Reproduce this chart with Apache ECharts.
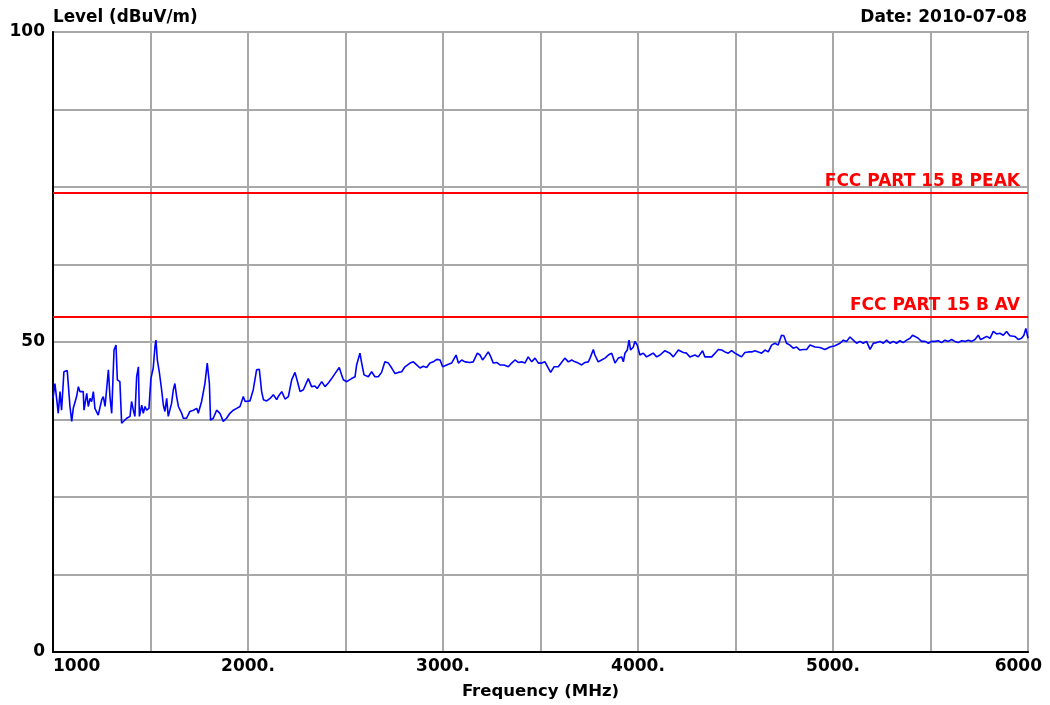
<!DOCTYPE html>
<html>
<head>
<meta charset="utf-8">
<script src="https://cdn.jsdelivr.net/npm/echarts@6/dist/echarts.min.js"></script>
<style>
html,body{margin:0;padding:0;background:#fff;}
#c{width:1050px;height:705px;}
</style>
</head>
<body>
<div id="c"></div>
<script>
// ---- data ----
const yTickLabels = [0, 50, 100];
const xTickLabels = ['1000', '2000.', '3000.', '4000.', '5000.', '6000'];
const limitNames = ['FCC PART 15 B PEAK', 'FCC PART 15 B AV'];
const limitValues = [74, 54];
const freqMHz = [
1000,1010,1019,1027,1036,1044,1056,1073,1079,1087,1096,1104,1121,1130,1138,1155,1159,1173,1181,1190,
1198,1207,1215,1232,1250,1258,1267,1284,1292,1301,1313,1323,1330,1343,1352,1361,1378,1395,1403,1412,
1420,1429,1438,1443,1455,1463,1472,1480,1492,1502,1514,1523,1528,1535,1545,1557,1566,1574,1583,1591,
1608,1617,1625,1634,1643,1660,1668,1685,1702,1720,1737,1745,1762,1779,1791,1802,1808,1822,1839,1856,
1873,1890,1907,1925,1942,1959,1976,1985,2010,2027,2044,2058,2070,2079,2096,2113,2130,2147,2155,2173,
2190,2207,2224,2241,2258,2267,2284,2309,2326,2343,2355,2378,2395,2412,2429,2446,2468,2480,2489,2506,
2531,2549,2557,2574,2583,2595,2617,2634,2651,2668,2685,2702,2720,2737,2754,2771,2788,2805,2831,2848,
2865,2882,2899,2916,2933,2950,2968,2985,2998,3019,3044,3067,3079,3096,3113,3138,3155,3176,3190,3203,
3215,3232,3241,3258,3275,3292,3313,3335,3352,3369,3386,3403,3420,3437,3455,3472,3489,3506,3523,3540,
3552,3569,3591,3608,3625,3643,3660,3677,3694,3711,3728,3745,3754,3771,3779,3796,3813,3831,3848,3865,
3882,3899,3916,3925,3933,3945,3954,3962,3976,3984,3996,4010,4027,4044,4061,4078,4096,4113,4138,4164,
4181,4207,4232,4249,4266,4292,4309,4331,4343,4360,4378,4395,4412,4429,4446,4463,4480,4497,4514,4531,
4548,4566,4583,4600,4617,4634,4651,4668,4685,4702,4719,4736,4748,4762,4779,4796,4813,4830,4848,4865,
4882,4908,4933,4959,4984,5010,5036,5053,5070,5087,5104,5121,5138,5155,5172,5190,5207,5224,5241,5258,
5275,5292,5309,5326,5343,5360,5378,5395,5408,5420,5437,5454,5472,5489,5506,5523,5540,5557,5574,5591,
5608,5625,5642,5660,5677,5694,5711,5728,5745,5757,5771,5788,5805,5822,5839,5856,5873,5890,5907,5933,
5950,5967,5979,5989,6000
];
const levelDb = [
40.9,43.3,43.1,38.5,42.0,39.0,45.2,45.4,45.2,39.6,37.2,39.3,41.2,42.8,42.0,42.0,39.0,41.7,39.6,40.9,
40.4,42.0,39.3,38.2,40.7,41.2,39.6,45.5,41.2,38.5,48.7,49.5,43.9,43.6,36.9,36.6,37.7,38.0,40.4,39.0,
38.0,44.4,46.0,38.0,39.8,38.5,39.6,39.0,39.3,44.1,45.8,49.3,50.3,47.1,45.2,42.3,39.8,38.8,40.9,38.0,
40.1,42.3,43.3,41.2,39.6,38.5,37.7,37.7,38.8,39.0,39.3,38.5,40.4,43.3,46.6,43.3,37.4,37.7,39.0,38.5,
37.2,37.7,38.5,39.0,39.3,39.6,41.2,40.4,40.5,42.3,45.5,45.6,42.0,40.7,40.5,40.9,41.5,40.7,41.2,42.0,
40.8,41.2,43.9,45.1,43.1,42.0,42.3,44.1,42.8,42.9,42.5,43.6,42.8,43.4,44.1,44.9,45.9,44.7,43.9,43.6,
44.1,44.4,46.3,48.2,46.6,44.7,44.4,45.2,44.4,44.4,45.1,46.8,46.6,45.8,44.9,45.1,45.2,46.0,46.6,46.8,
46.3,45.8,46.1,45.9,46.6,46.8,47.2,47.1,46.0,46.3,46.6,47.9,46.6,47.1,46.8,46.7,46.8,48.2,47.9,47.1,
47.6,48.4,47.9,46.6,46.7,46.3,46.3,46.0,46.6,47.1,46.7,46.8,46.6,47.6,46.8,47.4,46.6,46.6,46.8,45.8,
45.1,46.0,46.0,46.7,47.4,46.8,47.1,46.8,46.6,46.3,46.7,46.8,47.4,48.8,47.9,46.8,47.1,47.4,47.9,48.2,
46.6,47.4,47.6,46.8,48.2,48.7,50.3,48.7,49.2,50.1,49.5,47.9,48.2,47.6,47.9,48.2,47.6,47.9,48.6,48.2,
47.6,48.7,48.3,48.2,47.6,47.9,47.6,48.6,47.6,47.6,47.6,48.2,48.8,48.7,48.4,48.2,48.6,48.2,47.9,47.6,
48.3,48.4,48.4,48.6,48.4,48.2,48.7,48.4,49.5,49.8,49.5,51.1,51.0,49.8,49.5,49.0,49.2,48.7,48.8,48.8,
49.5,49.2,49.1,48.8,49.2,49.4,49.8,50.3,50.1,50.8,50.3,49.8,50.1,49.8,50.1,48.8,49.8,49.9,50.1,49.8,
50.3,49.8,50.1,49.8,50.2,49.9,50.3,50.6,51.1,50.9,50.6,50.1,50.1,49.8,50.1,50.1,50.2,49.9,50.3,50.1,
50.4,50.1,49.9,50.2,50.1,50.3,50.1,50.4,51.1,50.4,50.6,50.9,50.6,51.7,51.3,51.4,51.1,51.7,51.0,50.9,
50.4,50.6,51.1,52.2,50.6
];
// ---- chart ----
const FONT = '"DejaVu Sans", "Liberation Sans", Arial, sans-serif';
const trace = freqMHz.map((f, i) => [f, levelDb[i]]);
const chart = echarts.init(document.getElementById('c'), null, {renderer: 'canvas'});
chart.setOption({
  animation: false,
  backgroundColor: '#ffffff',
  grid: {left: 53, right: 22, top: 32, bottom: 53, show: true, borderColor: '#000', borderWidth: 1.5},
  title: [
    {text: 'Level (dBuV/m)', left: 48, top: 4, textStyle: {fontFamily: FONT, fontWeight: 'bold', fontSize: 16.8, color: '#000'}},
    {text: 'Date: 2010-07-08', right: 18, top: 4, textStyle: {fontFamily: FONT, fontWeight: 'bold', fontSize: 17, color: '#000'}}
  ],
  xAxis: {
    type: 'value', min: 1000, max: 6000, interval: 500,
    name: 'Frequency (MHz)', nameLocation: 'middle', nameGap: 31,
    nameTextStyle: {fontFamily: FONT, fontWeight: 'bold', fontSize: 16.5, color: '#000'},
    axisLine: {show: true, lineStyle: {color: '#000', width: 2}},
    axisTick: {show: false},
    splitLine: {show: true, lineStyle: {color: '#a8a8a8', width: 2}},
    axisLabel: {
      fontFamily: FONT, fontWeight: 'bold', fontSize: 17, color: '#000', margin: 6,
      alignMinLabel: 'left', alignMaxLabel: 'right',
      formatter: v => {
        const idx = (v - 1000) / 1000;
        if (!Number.isInteger(idx)) return '';
        return v === 6000 ? '{m|' + xTickLabels[idx] + '}' : xTickLabels[idx];
      },
      rich: {m: {fontFamily: FONT, fontWeight: 'bold', fontSize: 17, color: '#000', padding: [0, -14, 0, 0]}}
    }
  },
  yAxis: {
    type: 'value', min: 0, max: 100, interval: 12.5,
    axisLine: {show: true, lineStyle: {color: '#000', width: 2}},
    axisTick: {show: false},
    splitLine: {show: true, lineStyle: {color: '#a8a8a8', width: 2}},
    axisLabel: {
      fontFamily: FONT, fontWeight: 'bold', fontSize: 17, color: '#000', margin: 8,
      formatter: v => yTickLabels.includes(v) ? String(v) : ''
    }
  },
  series: [
    {
      type: 'line', data: trace, showSymbol: false, symbol: 'none',
      lineStyle: {color: '#0000ff', width: 1.6}, z: 3,
      markLine: {
        silent: true, symbol: ['none', 'none'],
        lineStyle: {color: '#ff0000', width: 2, type: 'solid'},
        label: {
          show: true, position: 'insideEndTop', distance: [8, 3],
          fontFamily: FONT, fontWeight: 'bold', fontSize: 17, color: '#ff0000',
          formatter: p => limitNames[p.dataIndex]
        },
        data: limitValues.map(v => ({yAxis: v}))
      }
    }
  ]
});
</script>
</body>
</html>
